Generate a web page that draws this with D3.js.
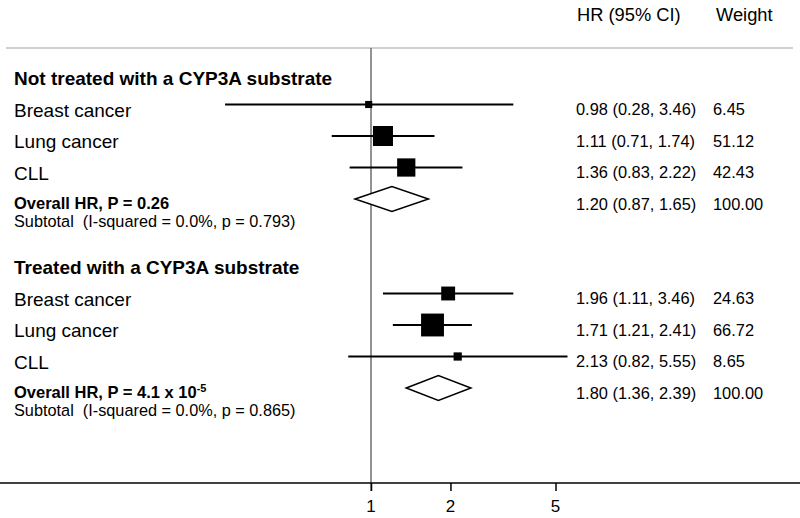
<!DOCTYPE html>
<html>
<head>
<meta charset="utf-8">
<script src="https://cdn.jsdelivr.net/npm/d3@7"></script>
<style>
  html, body { margin: 0; padding: 0; background: #fff; }
  svg { display: block; font-family: "Liberation Sans", Arial, sans-serif; }
  text { white-space: pre; }
</style>
</head>
<body>
<svg id="chart" width="800" height="518"></svg>
<script>
// ---- data ----
const groups = ["Not treated with a CYP3A substrate", "Treated with a CYP3A substrate"];
const studies = ["Breast cancer", "Lung cancer", "CLL"];
const hr    = [[0.98, 1.11, 1.36], [1.96, 1.71, 2.13]];
const lower = [[0.28, 0.71, 0.83], [1.11, 1.21, 0.82]];
const upper = [[3.46, 1.74, 2.22], [3.46, 2.41, 5.55]];
const weights = [[6.45, 51.12, 42.43], [24.63, 66.72, 8.65]];
const hrText = [["0.98 (0.28, 3.46)", "1.11 (0.71, 1.74)", "1.36 (0.83, 2.22)"],
                ["1.96 (1.11, 3.46)", "1.71 (1.21, 2.41)", "2.13 (0.82, 5.55)"]];
const weightText = [["6.45", "51.12", "42.43"], ["24.63", "66.72", "8.65"]];
const overallHR = [1.20, 1.80];
const overallLower = [0.87, 1.36];
const overallUpper = [1.65, 2.39];
const overallText = ["1.20 (0.87, 1.65)", "1.80 (1.36, 2.39)"];
const overallWeight = ["100.00", "100.00"];
const overallP = ["0.26", "4.1 x 10"];
const overallPexp = ["", "-5"];
const subtotalText = ["Subtotal  (I-squared = 0.0%, p = 0.793)", "Subtotal  (I-squared = 0.0%, p = 0.865)"];
const tickValues = [1, 2, 5];
const headers = ["HR (95% CI)", "Weight"];

// ---- layout ----
const svg = d3.select("#chart");
const W = 800, H = 518;
const x = d3.scaleLog().domain([0.1, 10]).range([107, 635]);
const y = d3.scaleLinear().domain([0, 10]).range([73, 388]);
const side = d3.scaleSqrt().domain([0, 100]).range([0, 28]);
const axisY = 483;
const labelX = 14, ciX = 576, wX = 713;

// headers
svg.append("text").attr("x", 577).attr("y", 21).style("font-size", "18.3px").attr("fill", "#000").text(headers[0]);
svg.append("text").attr("x", 716).attr("y", 21).style("font-size", "18.3px").attr("fill", "#000").text(headers[1]);

// top gray line
svg.append("line").attr("x1", 6).attr("x2", 793).attr("y1", 48).attr("y2", 48)
  .attr("stroke", "#d0d0d0").attr("stroke-width", 2);

// reference line at HR=1
svg.append("line").attr("x1", x(1)).attr("x2", x(1)).attr("y1", 48).attr("y2", axisY + 8)
  .attr("stroke", "#6e6e6e").attr("stroke-width", 1.5);

groups.forEach((g, gi) => {
  const base = gi * 6;
  svg.append("text").attr("x", labelX).attr("y", y(base) + 12)
    .style("font-size", "19px").attr("font-weight", "bold").text(g);

  studies.forEach((s, si) => {
    const yy = y(base + 1 + si);
    svg.append("text").attr("x", labelX).attr("y", yy + 12).style("font-size", "19px").text(s);
    svg.append("line").attr("x1", x(lower[gi][si])).attr("x2", x(upper[gi][si]))
      .attr("y1", yy).attr("y2", yy).attr("stroke", "#000").attr("stroke-width", 1.8);
    const sd = side(weights[gi][si]);
    svg.append("rect").attr("x", x(hr[gi][si]) - sd / 2).attr("y", yy - sd / 2)
      .attr("width", sd).attr("height", sd).attr("fill", "#000");
    svg.append("text").attr("x", ciX).attr("y", yy + 10.5).style("font-size", "16.4px").text(hrText[gi][si]);
    svg.append("text").attr("x", wX).attr("y", yy + 10.5).style("font-size", "16.4px").text(weightText[gi][si]);
  });

  const yo = y(base + 4);
  const t = svg.append("text").attr("x", labelX).attr("y", yo + 10)
    .style("font-size", "16.5px").attr("font-weight", "bold");
  t.append("tspan").text("Overall HR, P = " + overallP[gi]);
  if (overallPexp[gi]) {
    t.append("tspan").attr("dy", -6).style("font-size", "11px").text(overallPexp[gi]);
  }
  svg.append("text").attr("x", labelX).attr("y", yo + 28).style("font-size", "16.3px").text(subtotalText[gi]);

  const dh = 12.5;
  const pts = [[x(overallLower[gi]), yo], [x(overallHR[gi]), yo - dh], [x(overallUpper[gi]), yo], [x(overallHR[gi]), yo + dh]];
  svg.append("polygon").attr("points", pts.map(p => p.join(",")).join(" "))
    .attr("fill", "#fff").attr("stroke", "#000").attr("stroke-width", 1.5);
  svg.append("text").attr("x", ciX).attr("y", yo + 10.5).style("font-size", "16.4px").text(overallText[gi]);
  svg.append("text").attr("x", wX).attr("y", yo + 10.5).style("font-size", "16.4px").text(overallWeight[gi]);
});

// x axis
svg.append("line").attr("x1", 0).attr("x2", W).attr("y1", axisY).attr("y2", axisY)
  .attr("stroke", "#000").attr("stroke-width", 1.5);
const axis = d3.axisBottom(x).tickValues(tickValues).tickFormat("").tickSize(8);
const ag = svg.append("g").attr("transform", `translate(0,${axisY})`).call(axis);
ag.select(".domain").remove();
ag.selectAll("line").attr("stroke", "#000").attr("stroke-width", 1.5);
svg.append("g").selectAll("text").data(tickValues).join("text")
  .attr("x", d => x(d)).attr("y", axisY + 29)
  .attr("text-anchor", "middle")
  .style("font-size", "17px").attr("fill", "#000")
  .text(d => String(d));
</script>
</body>
</html>
